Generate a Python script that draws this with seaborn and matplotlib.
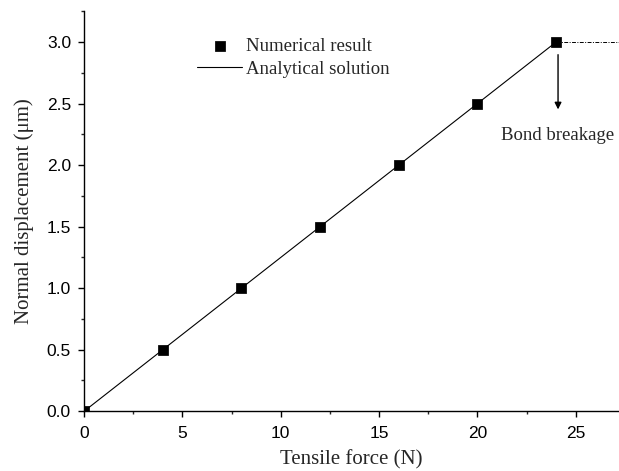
import numpy as np
import seaborn as sns
import matplotlib.pyplot as plt
from matplotlib.ticker import MultipleLocator

force = [0, 4, 8, 12, 16, 20, 24]
disp = [0.0, 0.5, 1.0, 1.5, 2.0, 2.5, 3.0]
analytic_force = [0, 24]
analytic_disp = [0.0, 3.0]
break_force = [24, 27.2]
break_disp = [3.0, 3.0]

sns.set_style("ticks")
plt.rcParams['font.family'] = ['Liberation Sans', 'DejaVu Sans']
serif = ['Liberation Serif', 'DejaVu Serif']

fig = plt.figure(figsize=(6.19, 4.71), dpi=100)
ax = fig.add_axes([0.136, 0.127, 0.864, 0.849])

sns.lineplot(x=analytic_force, y=analytic_disp, ax=ax, color="black", lw=0.8,
             label="Analytical solution")
sns.scatterplot(x=force, y=disp, ax=ax, marker="s", color="black", s=45,
                edgecolor="black", label="Numerical result", zorder=5)
ax.plot(break_force, break_disp, color="black", lw=0.7, ls=(0, (4, 1.5, 1, 1.5)))

ax.annotate("", xy=(24.1, 2.43), xytext=(24.1, 2.92),
            arrowprops=dict(arrowstyle="-|>", color="black", lw=1.0,
                            mutation_scale=10))
ax.text(24.05, 2.24, "Bond breakage", ha="center", va="center",
        family=serif, fontsize=13.5)

ax.set_xlim(0, 27.2)
ax.set_ylim(0, 3.25)
ax.xaxis.set_major_locator(MultipleLocator(5))
ax.xaxis.set_minor_locator(MultipleLocator(2.5))
ax.yaxis.set_major_locator(MultipleLocator(0.5))
ax.yaxis.set_minor_locator(MultipleLocator(0.25))
ax.yaxis.set_major_formatter(plt.FormatStrFormatter('%.1f'))
ax.tick_params(which="major", direction="out", length=4.5, width=1,
               labelsize=12.5, colors="black")
ax.tick_params(axis="y", which="major", pad=5)
ax.tick_params(axis="x", which="major", pad=6)
ax.tick_params(which="minor", direction="out", length=2.5, width=1)
sns.despine(ax=ax)
for s in ["left", "bottom"]:
    ax.spines[s].set_color("black")
    ax.spines[s].set_linewidth(1.0)

ax.set_xlabel("Tensile force (N)", family=serif, fontsize=15, labelpad=7)
ax.set_ylabel("Normal displacement (\u03bcm)", family=serif, fontsize=15,
              labelpad=9)

handles, labels = ax.get_legend_handles_labels()
leg = ax.legend(handles[::-1], labels[::-1], loc="upper left",
                bbox_to_anchor=(0.18, 0.975), frameon=False,
                prop={"family": serif, "size": 13.5}, handlelength=2.4,
                handletextpad=0.2, labelspacing=0.3)

fig.savefig("out.png", dpi=100)
